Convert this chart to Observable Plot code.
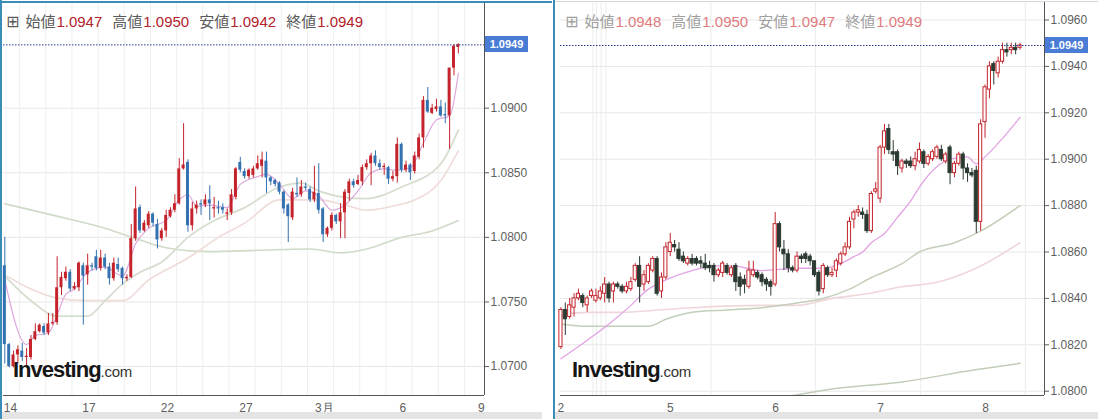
<!DOCTYPE html>
<html><head><meta charset="utf-8">
<script src="https://cdn.jsdelivr.net/npm/d3@7"></script>
<script src="https://cdn.jsdelivr.net/npm/@observablehq/plot@0.6"></script>
<style>
html,body{margin:0;padding:0;background:#fff;}
#wrap{position:relative;width:1098px;height:419px;overflow:hidden;background:#fff;font-family:"Liberation Sans",Arial,sans-serif;}
#wrap svg{position:absolute;top:0;}
.hdr{position:absolute;top:10px;white-space:nowrap;font-size:15px;line-height:22px;}
.hdr .ic{font-family:"DejaVu Sans",sans-serif;font-size:16px;margin-right:6px;}
.hdr .lb{font-family:"Noto Sans CJK JP",sans-serif;}
.hdr .v{font-family:"Liberation Sans",Arial,sans-serif;margin-right:10px;margin-left:1px;}
.logo{position:absolute;top:357px;white-space:nowrap;color:#161616;}
.logo .b{font-family:"Liberation Sans",Arial,sans-serif;font-weight:bold;font-size:22px;letter-spacing:-1px;}
.logo .c{font-family:"Liberation Sans",Arial,sans-serif;font-size:15px;color:#333;letter-spacing:-0.3px;}
.pbox{position:absolute;width:43px;height:16px;background:#4a7cd6;color:#fff;font:bold 11px "Liberation Sans",Arial,sans-serif;line-height:16px;text-align:center;}
.bd{position:absolute;}
</style></head>
<body><div id="wrap"></div>
<script>
// ---------- LEFT PANEL (4-hour candles) ----------
const lYTicks = [1.0700, 1.0750, 1.0800, 1.0850, 1.0900];
const lXTickIdx = [1.3, 19.3, 37.3, 55.3, 73.3, 91.3, 109.3];
const lXTickLbl = ["14", "17", "22", "27", "3月", "6", "9"];
const lGridIdx = [3.4, 9.4, 15.4, 21.4, 27.4, 33.4, 39.4, 45.4, 51.4, 57.4, 63.4, 69.4, 75.4, 81.4, 87.4, 93.4, 99.4, 105.4];

const lOpen = [1.0778,1.0717,1.0700,1.0709,1.0712,1.0707,1.0707,1.0721,1.0727,1.0731,
1.0726,1.0733,1.0734,1.0761,1.0768,1.0773,1.0760,1.0761,1.0778,1.0771,
1.0778,1.0785,1.0776,1.0784,1.0777,1.0768,1.0779,1.0776,1.0768,1.0769,
1.0799,1.0823,1.0805,1.0809,1.0818,1.0810,1.0799,1.0805,1.0816,1.0821,
1.0826,1.0853,1.0858,1.0809,1.0822,1.0826,1.0825,1.0829,1.0822,1.0823,
1.0823,1.0818,1.0819,1.0831,1.0858,1.0851,1.0847,1.0848,1.0853,1.0855,
1.0859,1.0846,1.0844,1.0842,1.0835,1.0825,1.0815,1.0834,1.0833,1.0839,
1.0837,1.0829,1.0834,1.0822,1.0802,1.0807,1.0817,1.0812,1.0819,1.0834,
1.0843,1.0841,1.0843,1.0854,1.0857,1.0863,1.0857,1.0854,1.0854,1.0845,
1.0847,1.0872,1.0852,1.0856,1.0851,1.0862,1.0877,1.0906,1.0896,1.0899,
1.0901,1.0895,1.0894,1.0931,1.0947];
const lHigh = [1.0800,1.0718,1.0712,1.0716,1.0718,1.0714,1.0724,1.0733,1.0733,1.0733,
1.0741,1.0741,1.0785,1.0773,1.0777,1.0775,1.0765,1.0781,1.0780,1.0787,
1.0780,1.0790,1.0790,1.0787,1.0780,1.0784,1.0784,1.0777,1.0771,1.0810,
1.0839,1.0825,1.0813,1.0820,1.0819,1.0814,1.0807,1.0821,1.0823,1.0833,
1.0861,1.0888,1.0860,1.0827,1.0828,1.0829,1.0833,1.0840,1.0831,1.0828,
1.0826,1.0822,1.0837,1.0854,1.0862,1.0853,1.0853,1.0855,1.0863,1.0866,
1.0866,1.0847,1.0845,1.0843,1.0836,1.0826,1.0838,1.0846,1.0844,1.0842,
1.0839,1.0855,1.0857,1.0823,1.0808,1.0819,1.0818,1.0826,1.0837,1.0845,
1.0845,1.0848,1.0856,1.0860,1.0865,1.0867,1.0860,1.0857,1.0855,1.0851,
1.0877,1.0873,1.0859,1.0857,1.0866,1.0880,1.0909,1.0916,1.0903,1.0907,
1.0906,1.0904,1.0931,1.0949,1.0950];
const lLow = [1.0702,1.0699,1.0699,1.0702,1.0704,1.0699,1.0705,1.0720,1.0726,1.0724,
1.0724,1.0732,1.0732,1.0755,1.0766,1.0758,1.0759,1.0758,1.0732,1.0763,
1.0774,1.0774,1.0774,1.0775,1.0763,1.0766,1.0773,1.0763,1.0766,1.0768,
1.0797,1.0803,1.0804,1.0807,1.0808,1.0791,1.0797,1.0800,1.0815,1.0819,
1.0825,1.0852,1.0804,1.0805,1.0818,1.0817,1.0823,1.0813,1.0815,1.0818,
1.0818,1.0813,1.0817,1.0829,1.0850,1.0845,1.0845,1.0846,1.0852,1.0846,
1.0834,1.0840,1.0839,1.0833,1.0818,1.0796,1.0813,1.0831,1.0831,1.0836,
1.0827,1.0827,1.0818,1.0796,1.0800,1.0805,1.0810,1.0799,1.0799,1.0828,
1.0838,1.0840,1.0840,1.0852,1.0840,1.0855,1.0852,1.0848,1.0841,1.0843,
1.0842,1.0850,1.0850,1.0844,1.0849,1.0860,1.0869,1.0896,1.0895,1.0897,
1.0893,1.0888,1.0868,1.0925,1.0942];
const lClose = [1.0717,1.0700,1.0709,1.0713,1.0707,1.0708,1.0721,1.0727,1.0732,1.0726,
1.0733,1.0734,1.0761,1.0769,1.0773,1.0760,1.0762,1.0780,1.0770,1.0778,
1.0777,1.0776,1.0784,1.0777,1.0768,1.0780,1.0775,1.0768,1.0769,1.0799,
1.0822,1.0805,1.0811,1.0818,1.0811,1.0798,1.0805,1.0817,1.0821,1.0826,
1.0853,1.0856,1.0809,1.0822,1.0825,1.0825,1.0829,1.0826,1.0823,1.0822,
1.0821,1.0819,1.0833,1.0853,1.0852,1.0847,1.0852,1.0853,1.0857,1.0860,
1.0846,1.0843,1.0841,1.0835,1.0822,1.0816,1.0835,1.0833,1.0839,1.0838,
1.0829,1.0835,1.0821,1.0802,1.0807,1.0817,1.0812,1.0819,1.0835,1.0843,
1.0840,1.0844,1.0854,1.0857,1.0863,1.0857,1.0854,1.0855,1.0845,1.0847,
1.0872,1.0852,1.0856,1.0850,1.0863,1.0877,1.0906,1.0897,1.0900,1.0901,
1.0894,1.0894,1.0931,1.0948,1.0949];

// moving-average lines (candle index, price)
const lMaAIdx = [0,5,7,10,12,14,16,19,23,27,30,33,37,40,42,44,47,51,54,58,60,63,66,69,72,75,78,81,84,87,90,93,96,99,102,104];
const lMaAVal = [1.0767,1.0717,1.0724,1.0726,1.0740,1.0756,1.0760,1.0773,1.0777,1.0770,1.0795,1.0807,1.0813,1.0829,1.0833,1.0824,1.0825,1.0823,1.0841,1.0847,1.0849,1.0841,1.0830,1.0836,1.0832,1.0821,1.0825,1.0836,1.0850,1.0853,1.0852,1.0854,1.0873,1.0891,1.0894,1.0927];
const lMaBIdx = [0,6,12,19,27,33,42,49,55,63,68,72,78,83,90,94,100,104];
const lMaBVal = [1.0771,1.0760,1.0753,1.0751,1.0751,1.0767,1.0784,1.0800,1.0811,1.0829,1.0829,1.0829,1.0825,1.0821,1.0825,1.0829,1.0844,1.0867];
const lMaCIdx = [0,6,12,19,23,27,31,36,42,48,55,63,68,72,78,83,91,100,104];
const lMaCVal = [1.0770,1.0751,1.0739,1.0739,1.0751,1.0764,1.0773,1.0781,1.0800,1.0813,1.0823,1.0839,1.0842,1.0836,1.0831,1.0830,1.0839,1.0857,1.0883];
const lMaDIdx = [0,10,22,31,37,47,58,70,77,83,91,98,104];
const lMaDVal = [1.0826,1.0818,1.0808,1.0798,1.0792,1.0789,1.0790,1.0791,1.0788,1.0791,1.0800,1.0805,1.0813];

// ---------- RIGHT PANEL (1-hour candles) ----------
const rYTicks = [1.0800, 1.0820, 1.0840, 1.0860, 1.0880, 1.0900, 1.0920, 1.0940, 1.0960];
const rXTickIdx = [0, 25, 49.1, 73.1, 97.1];
const rXTickLbl = ["2", "5", "6", "7", "8"];
const rGridIdx = [7.3, 8.1, 9.2, 10.3, 34.3, 58.2, 82.3, 106.2];

const rOpen = [1.0819,1.0835,1.0832,1.0836,1.0840,1.0841,1.0837,1.0841,1.0839,1.0840,
1.0842,1.0846,1.0843,1.0846,1.0845,1.0843,1.0844,1.0848,1.0854,1.0846,
1.0847,1.0852,1.0857,1.0843,1.0849,1.0860,1.0863,1.0861,1.0858,1.0855,
1.0857,1.0857,1.0856,1.0855,1.0854,1.0854,1.0850,1.0851,1.0854,1.0850,
1.0854,1.0849,1.0848,1.0845,1.0850,1.0851,1.0850,1.0848,1.0847,1.0846,
1.0872,1.0861,1.0859,1.0853,1.0852,1.0858,1.0859,1.0858,1.0856,1.0851,
1.0844,1.0853,1.0850,1.0852,1.0855,1.0859,1.0862,1.0874,1.0877,1.0877,
1.0876,1.0869,1.0886,1.0883,1.0905,1.0913,1.0903,1.0903,1.0896,1.0899,
1.0899,1.0897,1.0899,1.0903,1.0898,1.0900,1.0901,1.0904,1.0899,1.0905,
1.0894,1.0898,1.0902,1.0896,1.0894,1.0895,1.0873,1.0916,1.0930,1.0941,
1.0937,1.0942,1.0947,1.0947,1.0948,1.0948];
const rHigh = [1.0836,1.0838,1.0840,1.0842,1.0844,1.0842,1.0841,1.0844,1.0844,1.0845,
1.0849,1.0847,1.0847,1.0847,1.0846,1.0847,1.0849,1.0855,1.0858,1.0852,
1.0855,1.0858,1.0858,1.0851,1.0864,1.0868,1.0865,1.0864,1.0860,1.0858,
1.0859,1.0858,1.0858,1.0859,1.0856,1.0855,1.0853,1.0856,1.0855,1.0854,
1.0855,1.0851,1.0850,1.0856,1.0856,1.0852,1.0851,1.0849,1.0848,1.0877,
1.0873,1.0865,1.0861,1.0854,1.0860,1.0859,1.0860,1.0859,1.0856,1.0852,
1.0855,1.0854,1.0853,1.0857,1.0860,1.0864,1.0875,1.0878,1.0880,1.0879,
1.0878,1.0886,1.0890,1.0906,1.0915,1.0915,1.0908,1.0904,1.0900,1.0900,
1.0901,1.0903,1.0907,1.0904,1.0902,1.0904,1.0906,1.0906,1.0903,1.0906,
1.0899,1.0903,1.0903,1.0898,1.0896,1.0897,1.0917,1.0932,1.0942,1.0942,
1.0944,1.0950,1.0950,1.0950,1.0950,1.0950];
const rLow = [1.0818,1.0824,1.0831,1.0832,1.0839,1.0836,1.0834,1.0840,1.0838,1.0839,
1.0838,1.0838,1.0838,1.0844,1.0842,1.0842,1.0843,1.0847,1.0838,1.0843,
1.0846,1.0851,1.0841,1.0840,1.0848,1.0858,1.0860,1.0856,1.0855,1.0854,
1.0854,1.0854,1.0853,1.0852,1.0851,1.0847,1.0849,1.0849,1.0850,1.0849,
1.0843,1.0841,1.0842,1.0844,1.0849,1.0848,1.0845,1.0843,1.0841,1.0845,
1.0860,1.0852,1.0851,1.0851,1.0851,1.0855,1.0855,1.0854,1.0849,1.0841,
1.0842,1.0849,1.0849,1.0849,1.0854,1.0858,1.0861,1.0870,1.0875,1.0874,
1.0868,1.0868,1.0885,1.0881,1.0902,1.0902,1.0899,1.0893,1.0894,1.0896,
1.0896,1.0895,1.0898,1.0896,1.0897,1.0899,1.0900,1.0899,1.0898,1.0889,
1.0892,1.0897,1.0891,1.0890,1.0892,1.0868,1.0869,1.0909,1.0926,1.0932,
1.0935,1.0941,1.0944,1.0945,1.0945,1.0947];
const rClose = [1.0835,1.0831,1.0837,1.0840,1.0842,1.0838,1.0840,1.0843,1.0841,1.0843,
1.0846,1.0840,1.0846,1.0845,1.0843,1.0845,1.0847,1.0854,1.0845,1.0850,
1.0854,1.0857,1.0842,1.0849,1.0862,1.0864,1.0862,1.0857,1.0856,1.0857,
1.0855,1.0855,1.0855,1.0853,1.0853,1.0850,1.0852,1.0855,1.0851,1.0853,
1.0847,1.0845,1.0846,1.0852,1.0852,1.0849,1.0847,1.0846,1.0845,1.0872,
1.0862,1.0859,1.0853,1.0852,1.0858,1.0857,1.0857,1.0856,1.0850,1.0843,
1.0854,1.0850,1.0851,1.0856,1.0859,1.0862,1.0873,1.0877,1.0878,1.0876,
1.0869,1.0885,1.0887,1.0905,1.0912,1.0904,1.0902,1.0897,1.0899,1.0898,
1.0897,1.0900,1.0904,1.0898,1.0901,1.0903,1.0905,1.0900,1.0902,1.0894,
1.0898,1.0902,1.0896,1.0894,1.0893,1.0873,1.0915,1.0931,1.0940,1.0938,
1.0942,1.0947,1.0946,1.0948,1.0947,1.0949];

const rMaAIdx = [0,6,11,16,20,24,30,35,39,46,54,60,64,67,69,71,74,77,80,82,89,93,95,97,101,105];
const rMaAVal = [1.0814,1.0822,1.0829,1.0837,1.0844,1.0848,1.0852,1.0854,1.0854,1.0852,1.0853,1.0853,1.0855,1.0858,1.0860,1.0864,1.0868,1.0875,1.0882,1.0888,1.0900,1.0901,1.0898,1.0901,1.0909,1.0918];
const rMaBIdx = [0,6,14,20,24,30,38,46,54,60,66,71,78,82,90,96,105];
const rMaBVal = [1.0829,1.0828,1.0828,1.0828,1.0831,1.0834,1.0835,1.0836,1.0838,1.0840,1.0844,1.0849,1.0855,1.0860,1.0864,1.0869,1.0880];
const rMaCIdx = [0,6,14,22,30,46,54,62,70,78,86,96,105];
const rMaCVal = [1.0833,1.0834,1.0834,1.0835,1.0836,1.0837,1.0837,1.0840,1.0842,1.0845,1.0847,1.0854,1.0864];
const rMaDIdx = [50,62,78,94,105];
const rMaDVal = [1.0797,1.0801,1.0804,1.0809,1.0812];

// ---------- helpers ----------
function makeCandles(O,H,L,C){ return O.map((o,i)=>({i, o, h:H[i], l:L[i], c:C[i], up:C[i]>=o})); }
function series(idx,val){ return idx.map((x,k)=>({x, y:val[k]})); }
const maLine = (idx,val,color,w)=>Plot.line(series(idx,val),{x:"x",y:"y",stroke:color,strokeWidth:w,curve:"monotone-x",clip:true});

const wrap = document.getElementById("wrap");

// ---------- left chart ----------
const L_RED = "#c4232b", L_BLUE = "#3371b0";
const lc = makeCandles(lOpen,lHigh,lLow,lClose);
const lDom = [1.06776, 1.09818], lXDom = [-0.3, 110];
const lLast = lClose[lClose.length-1];
const left = Plot.plot({
  width:550, height:419, marginLeft:3, marginRight:66, marginTop:2, marginBottom:24,
  style:{fontFamily:"'Liberation Sans',Arial,sans-serif", fontSize:"12px", color:"#606060", background:"transparent"},
  x:{domain:lXDom, ticks:lXTickIdx, tickFormat:d=>lXTickLbl[lXTickIdx.indexOf(d)], tickSize:0, tickPadding:8, label:null},
  y:{domain:lDom, axis:"right", ticks:lYTicks, tickFormat:d=>d.toFixed(4), tickSize:4, tickPadding:2, label:null},
  marks:[
    Plot.ruleY(lYTicks,{stroke:"#e7e7e7"}),
    Plot.ruleX(lGridIdx,{stroke:"#efefef"}),
    maLine(lMaDIdx,lMaDVal,"#d0dbc7",1.6),
    maLine(lMaBIdx,lMaBVal,"#efdbd8",1.6),
    maLine(lMaCIdx,lMaCVal,"#d5dece",1.8),
    maLine(lMaAIdx,lMaAVal,"#dda9dd",1.2),
    Plot.ruleX(lc,{x:"i",y1:"l",y2:"h",stroke:d=>d.up?L_RED:L_BLUE,strokeWidth:1}),
    Plot.rect(lc,{x1:d=>d.i-0.34,x2:d=>d.i+0.34,y1:"o",y2:"c",fill:d=>d.up?L_RED:L_BLUE}),
    Plot.ruleY([lLast],{stroke:"#2b3b8f",strokeDasharray:"1.5,1.5"}),
    Plot.ruleX([lXDom[1]],{stroke:"#555"}),
    Plot.ruleY([lDom[0]],{stroke:"#555"})
  ]
});
left.style.left = "0px";
wrap.appendChild(left);

// ---------- right chart ----------
const R_RED = "#c4232b", R_DARK = "#2b3a31";
const rc = makeCandles(rOpen,rHigh,rLow,rClose);
const rDom = [1.079815, 1.096754], rXDom = [-0.1, 110.6];
const rLast = rClose[rClose.length-1];
const right = Plot.plot({
  width:541, height:419, marginLeft:3, marginRight:54, marginTop:2, marginBottom:24,
  style:{fontFamily:"'Liberation Sans',Arial,sans-serif", fontSize:"12px", color:"#606060", background:"transparent"},
  x:{domain:rXDom, ticks:rXTickIdx, tickFormat:d=>rXTickLbl[rXTickIdx.indexOf(d)], tickSize:0, tickPadding:8, label:null},
  y:{domain:rDom, axis:"right", ticks:rYTicks, tickFormat:d=>d.toFixed(4), tickSize:4, tickPadding:2, label:null},
  marks:[
    Plot.ruleY(rYTicks,{stroke:"#e7e7e7"}),
    Plot.ruleX(rGridIdx,{stroke:"#ebebeb"}),
    maLine(rMaDIdx,rMaDVal,"#c2cdb8",1.5),
    maLine(rMaCIdx,rMaCVal,"#f0d6da",1.6),
    maLine(rMaBIdx,rMaBVal,"#c3cfb9",1.5),
    maLine(rMaAIdx,rMaAVal,"#e2a2e4",1.3),
    Plot.ruleX(rc,{x:"i",y1:"l",y2:"h",stroke:d=>d.up?R_RED:R_DARK,strokeWidth:1}),
    Plot.rect(rc,{x1:d=>d.i-0.36,x2:d=>d.i+0.36,y1:"o",y2:"c",fill:d=>d.up?"#ffffff":R_DARK,stroke:d=>d.up?R_RED:R_DARK,strokeWidth:1}),
    Plot.ruleY([rLast],{stroke:"#2b3b8f",strokeDasharray:"1.5,1.5"}),
    Plot.ruleX([rXDom[1]],{stroke:"#555"}),
    Plot.ruleY([rDom[0]],{stroke:"#555"})
  ]
});
const RLEFT = 557;
right.style.left = RLEFT + "px";
wrap.appendChild(right);

// ---------- overlays: borders, headers, price boxes, logos ----------
function addDiv(cls, css, html){ const d=document.createElement("div"); d.className=cls; d.style.cssText=css; if(html!==undefined) d.innerHTML=html; wrap.appendChild(d); return d; }
addDiv("bd","left:0;top:0;width:2px;height:419px;background:#3a8db6;");
addDiv("bd","left:0;top:1px;width:552px;height:2px;background:#3a8db6;");
addDiv("bd","left:553px;top:0;width:2px;height:419px;background:#3a8db6;");
addDiv("bd","left:555px;top:1px;width:543px;height:1px;background:#d6d6d6;");
addDiv("bd","left:2px;top:412px;width:540px;height:7px;background:#e4e4e4;");
addDiv("bd","left:555px;top:412px;width:543px;height:7px;background:#e4e4e4;");

function header(x, O,H,L,C, lbCol, vCol){
  const f = v=>v.toFixed(4);
  const g = (lb,v)=>`<span class="lb" style="color:${lbCol}">${lb}</span><span class="v" style="color:${vCol}">${f(v)}</span>`;
  addDiv("hdr", `left:${x}px;`, `<span class="ic" style="color:${lbCol}">⊞</span>` + g("始値",O)+g("高値",H)+g("安値",L)+g("終値",C));
}
const li = lOpen.length-1, ri = rOpen.length-1;
header(6, lOpen[li], lHigh[li], lLow[li], lClose[li], "#5a5a5a", "#b3222a");
header(565, rOpen[ri], rHigh[ri], rLow[ri], rClose[ri], "#a0a0a0", "#e07b7d");

const lyPix = left.scale("y").apply(lLast);
addDiv("pbox", `left:485px;top:${lyPix-8}px;`, lLast.toFixed(4));
const ryPix = right.scale("y").apply(rLast);
addDiv("pbox", `left:1045px;top:${ryPix-8}px;`, rLast.toFixed(4));

addDiv("logo","left:13px;", '<span class="b">Investing</span><span class="c">.com</span>');
addDiv("logo","left:572px;", '<span class="b">Investing</span><span class="c">.com</span>');
</script>
</body></html>
